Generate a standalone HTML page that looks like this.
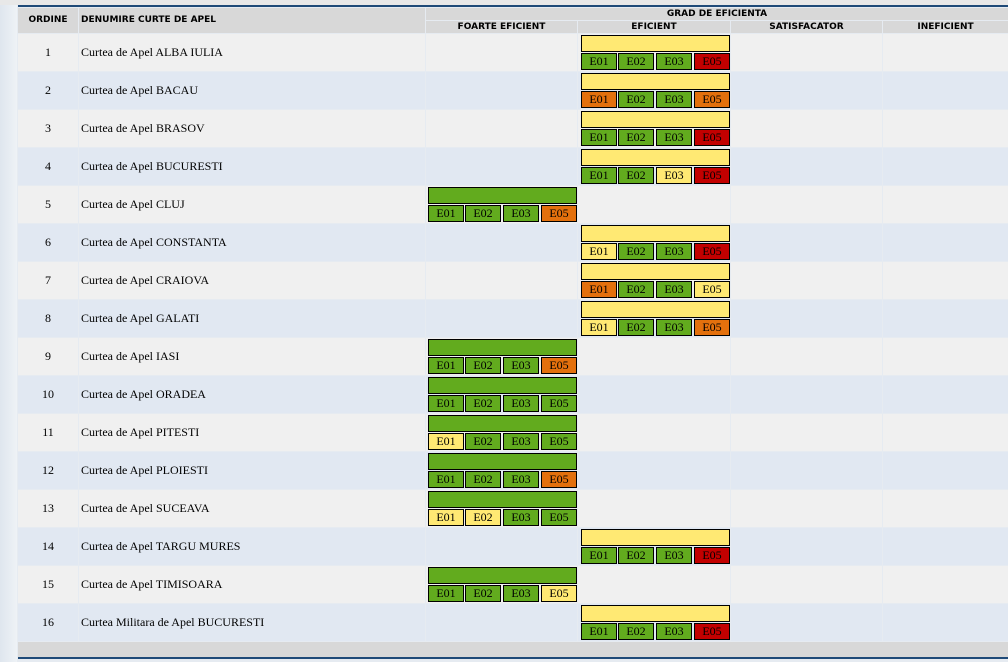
<!DOCTYPE html>
<html><head><meta charset="utf-8"><style>
*{margin:0;padding:0;box-sizing:border-box}
body{width:1008px;height:662px;overflow:hidden;background:#e6ebf1;position:relative;font-family:"Liberation Serif",serif}
#top{position:absolute;left:0;top:0;width:1008px;height:5px;background:#e8e8e8}
#topline{position:absolute;left:18px;top:5px;width:990px;height:2px;background:#1f4a78}
#strip{position:absolute;left:0;top:5px;width:17px;height:657px;background:linear-gradient(90deg,#dfe6ee,#eef2f6)}
.c{position:absolute}
.h{background:#d8d8d8;font-family:"DejaVu Sans","Liberation Sans",sans-serif;font-weight:bold;font-size:9px;color:#000;text-align:center}
.bar{position:absolute;border:1px solid #000}
.box{position:absolute;border:1px solid #000;font-size:12px;text-align:center;line-height:14px;color:#000}
#foot{position:absolute;left:18px;top:642px;width:990px;height:15px;background:#d8d8d8}
#footline{position:absolute;left:18px;top:657px;width:990px;height:2px;background:#1f4a78}
</style></head><body>
<div id="top"></div>
<div id="strip"></div>
<div id="topline"></div>
<div id="tbl">
<div class="c h" style="left:18px;top:8px;width:60px;height:25px;line-height:25px">ORDINE</div>
<div class="c h" style="left:79px;top:8px;width:346px;height:25px;line-height:25px;text-align:left;padding-left:2px">DENUMIRE CURTE DE APEL</div>
<div class="c h" style="left:426px;top:8px;width:582px;height:12px;line-height:13px">GRAD DE EFICIENTA</div>
<div class="c h" style="left:426px;top:21px;width:151px;height:12px;line-height:12px">FOARTE EFICIENT</div>
<div class="c h" style="left:578px;top:21px;width:152px;height:12px;line-height:12px">EFICIENT</div>
<div class="c h" style="left:731px;top:21px;width:151px;height:12px;line-height:12px">SATISFACATOR</div>
<div class="c h" style="left:883px;top:21px;width:125px;height:12px;line-height:12px">INEFICIENT</div>
</div>
<div id="foot"></div>
<div id="footline"></div>
<script>
const names=["Curtea de Apel ALBA IULIA","Curtea de Apel BACAU","Curtea de Apel BRASOV","Curtea de Apel BUCURESTI","Curtea de Apel CLUJ","Curtea de Apel CONSTANTA","Curtea de Apel CRAIOVA","Curtea de Apel GALATI","Curtea de Apel IASI","Curtea de Apel ORADEA","Curtea de Apel PITESTI","Curtea de Apel PLOIESTI","Curtea de Apel SUCEAVA","Curtea de Apel TARGU MURES","Curtea de Apel TIMISOARA","Curtea Militara de Apel BUCURESTI"];
const grade=[2,2,2,2,1,2,2,2,1,1,1,1,1,2,1,2];
const indicators=["E01","E02","E03","E05"];
const status=["gggr","oggo","gggr","ggyr","gggo","yggr","oggy","yggo","gggo","gggg","yggg","gggo","yygg","gggr","gggy","gggr"];
const col={g:"#62ab1e",y:"#ffe973",o:"#e3700d",r:"#c20000"};
const gradeX=[null,428,581];
const tbl=document.getElementById('tbl');
function mk(cls,style,name){const d=document.createElement('div');d.className=cls;d.style.cssText=style;

tbl.appendChild(d);return d;}
names.forEach((n,i)=>{
 const y=34+i*38, bg=i%2?"#e1e8f2":"#f0f0f0";
 const cols=[[18,60],[79,346],[426,151],[578,152],[731,151],[883,125]];
 cols.forEach((c,j)=>{const d=mk('c',`left:${c[0]}px;top:${y}px;width:${c[1]}px;height:37px;background:${bg}`,'row-cell');
  if(j==0){d.textContent=i+1;d.style.textAlign='center';d.style.lineHeight='37px';d.style.fontSize='12px';}
  if(j==1){d.textContent=n;d.style.lineHeight='37px';d.style.fontSize='12px';d.style.paddingLeft='2px';}
 });
 const x=gradeX[grade[i]];
 mk('bar',`left:${x}px;top:${y+1}px;width:149px;height:17px;background:${grade[i]==1?col.g:col.y}`,'grade-bar');
 const bx=[0,37,75,113];
 indicators.forEach((lab,k)=>{const b=mk('box',`left:${x+bx[k]}px;top:${y+19}px;width:36px;height:17px;background:${col[status[i][k]]}`,'indicator-'+lab.toLowerCase());b.textContent=lab;});
});
</script>
</body></html>
